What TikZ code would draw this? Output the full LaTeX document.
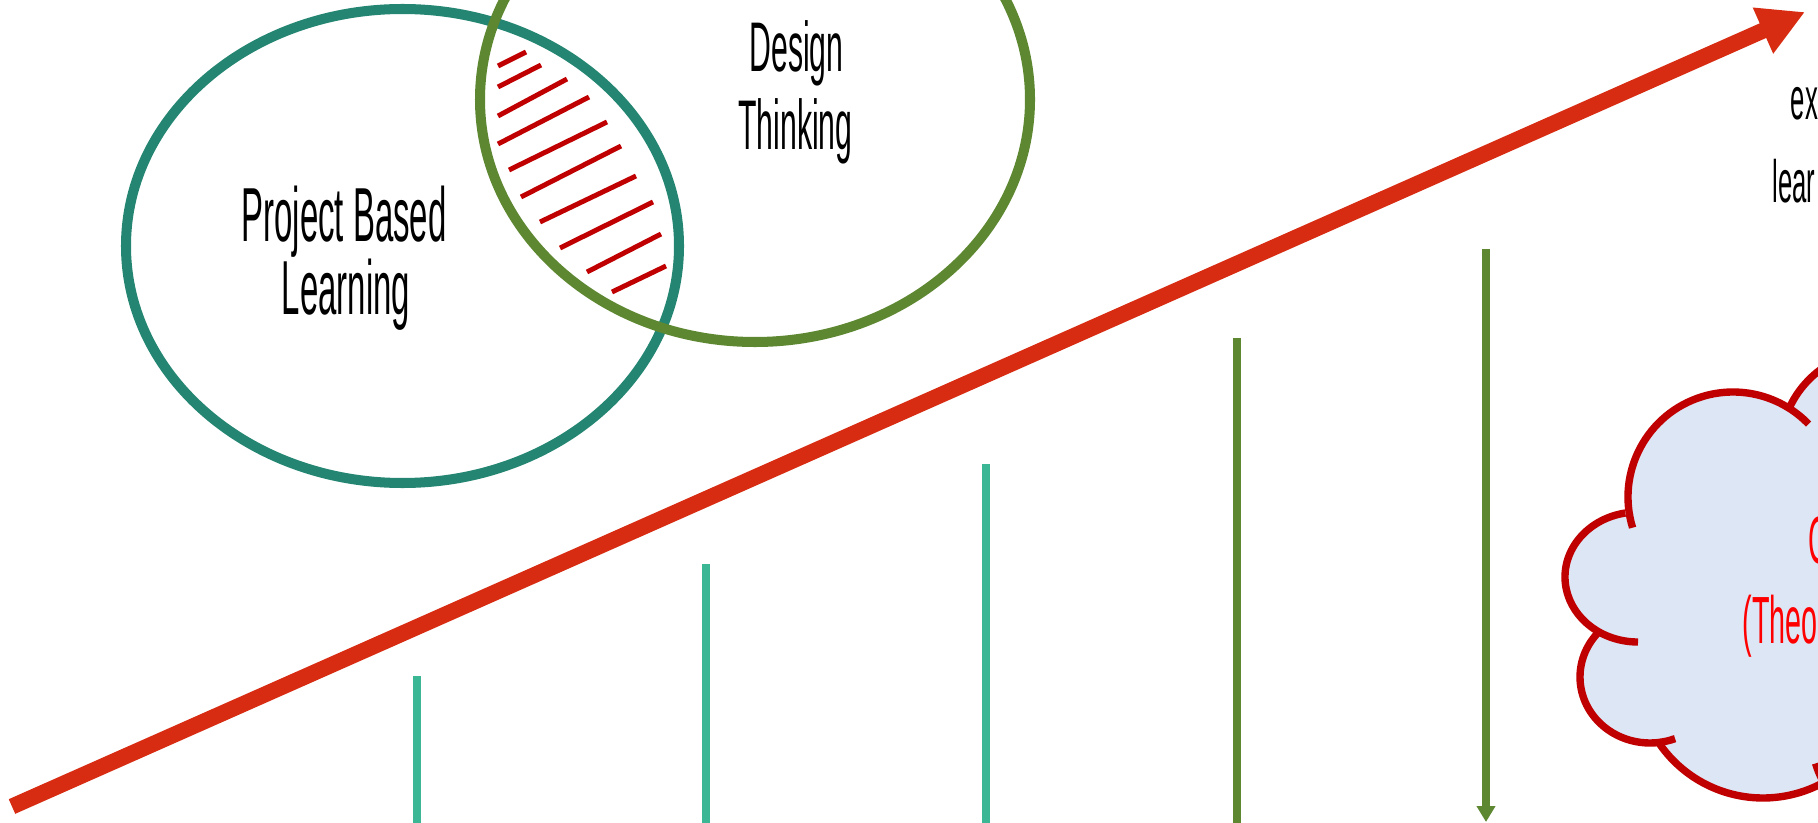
\documentclass[tikz,border=0pt]{standalone}
\usepackage{fontspec}
\usepackage{xcolor}
\usepackage{tikz}
\usetikzlibrary{arrows.meta}
\newfontfamily\slimfont[FakeStretch=0.43]{Liberation Sans}
\definecolor{pblcol}{HTML}{248672}
\definecolor{dtcol}{HTML}{5E8731}
\definecolor{arrowred}{HTML}{D72B12}
\definecolor{hatchred}{HTML}{C00000}
\definecolor{stemteal}{HTML}{3BB795}
\definecolor{cloudblue}{HTML}{DCE6F4}
\colorlet{cloudred}{hatchred}

\begin{document}
\begin{tikzpicture}[
BigEllipse/.style={line width=2.85pt},
Hatch/.style={draw=hatchred,line width=1.4pt},
Stem/.style={line width=2pt},
CloudLine/.style={draw=cloudred,line width=2.1pt},
MyLabels/.style={font=\slimfont\fontsize{21.8}{24}\selectfont,anchor=base,inner sep=0pt},
SideLabels/.style={font=\slimfont\fontsize{17}{20}\selectfont,anchor=base west,inner sep=0pt}
]
\useasboundingbox (0,0) rectangle (18.18,8.22);
\clip (0,0) rectangle (18.18,8.22);

% the two overlapping circles
\coordinate (PBL) at (4.025,5.76);
\coordinate (DT) at (7.55,7.225);

\draw[BigEllipse,pblcol] (PBL) ellipse [x radius=2.765, y radius=2.37];
\draw[BigEllipse,dtcol] (DT) ellipse [x radius=2.75, y radius=2.425];

% hatching in the overlap
\draw[Hatch] (4.98,7.56) -- (5.26,7.70);
\draw[Hatch] (4.98,7.35) -- (5.41,7.57);
\draw[Hatch] (4.98,7.06) -- (5.67,7.43);
\draw[Hatch] (4.98,6.78) -- (5.89,7.25);
\draw[Hatch] (5.09,6.52) -- (6.07,7.00);
\draw[Hatch] (5.21,6.25) -- (6.21,6.76);
\draw[Hatch] (5.40,6.00) -- (6.36,6.46);
\draw[Hatch] (5.60,5.74) -- (6.53,6.20);
\draw[Hatch] (5.87,5.50) -- (6.61,5.88);
\draw[Hatch] (6.12,5.30) -- (6.66,5.56);

\node[MyLabels] (pblA) at (3.44,5.80) {Project Based};
\node[MyLabels] (pblB) at (3.46,5.07) {Learning};
\node[MyLabels,font=\slimfont\fontsize{20}{22}\selectfont] (dtA) at (7.965,7.50) {Design};
\node[MyLabels,font=\slimfont\fontsize{20}{22}\selectfont] (dtB) at (7.955,6.72) {Thinking};

% the big rising arrow
\coordinate (Start) at (0.12,0.155);
\coordinate (Tip) at (18.05,8.10);
\draw[-{Triangle[length=0.46cm, width=0.47cm]}, arrowred, line width=4.55pt] (Start)--(Tip);

\node[SideLabels] (exA) at (17.90,7.02) {ex};
\node[SideLabels] (exB) at (17.72,6.20) {lear};

% vertical stems
\coordinate (S1) at (4.17,1.46);
\coordinate (S2) at (7.06,2.58);
\coordinate (S3) at (9.86,3.58);
\coordinate (S4) at (12.37,4.84);
\coordinate (S5) at (14.86,5.73);

\draw[Stem,stemteal] (S1) -- (4.17,-0.1);
\draw[Stem,stemteal] (S2) -- (7.06,-0.1);
\draw[Stem,stemteal] (S3) -- (9.86,-0.1);
\draw[Stem,dtcol] (S4) -- (12.37,-0.1);
\draw[-{Triangle[length=0.16cm, width=0.18cm]},Stem,dtcol] (S5) -- (14.86,0);

% cloud
\coordinate (CloudA) at (17.33,3.25);
\coordinate (CloudB) at (16.38,2.45);
\coordinate (CloudC) at (16.50,1.45);
\coordinate (CloudD) at (17.63,1.50);
\coordinate (CloudE) at (18.80,3.72);
\coordinate (CloudF) at (19.15,0.89);

\fill[cloudblue] (CloudA) circle [radius=1.05]
  (CloudB) ellipse [x radius=0.73, y radius=0.65]
  (CloudC) ellipse [x radius=0.70, y radius=0.66]
  (CloudD) circle [radius=1.26]
  (CloudE) circle [radius=1.0]
  (CloudF) circle [radius=1.04];
\fill[cloudblue] (CloudB) -- (CloudA) -- (CloudE) -- (19.5,3.7) -- (19.5,0.5)
  -- (CloudF) -- (CloudD) -- (CloudC) -- cycle;

\draw[CloudLine] (CloudA) ++(197:1.05cm) arc [start angle=197, end angle=44, radius=1.05];
\draw[CloudLine] (CloudE) ++(157:1.0cm) arc [start angle=157, end angle=60, radius=1.0];
\draw[CloudLine] (CloudB) ++(100:0.73cm and 0.65cm) arc [start angle=100, end angle=270, x radius=0.73, y radius=0.65];
\draw[CloudLine] (CloudC) ++(135:0.70cm and 0.66cm) arc [start angle=135, end angle=291, x radius=0.70, y radius=0.66];
\draw[CloudLine] (CloudD) ++(213:1.26cm) arc [start angle=213, end angle=310, radius=1.26];
\draw[CloudLine] (CloudF) ++(197:1.04cm) arc [start angle=197, end angle=260, radius=1.04];

\node[SideLabels,red,font=\slimfont\fontsize{19}{22}\selectfont] (thA) at (18.08,2.59) {C};
\node[SideLabels,red,font=\slimfont\fontsize{19}{22}\selectfont] (thB) at (17.42,1.79) {(Theo};

\end{tikzpicture}
\end{document}
